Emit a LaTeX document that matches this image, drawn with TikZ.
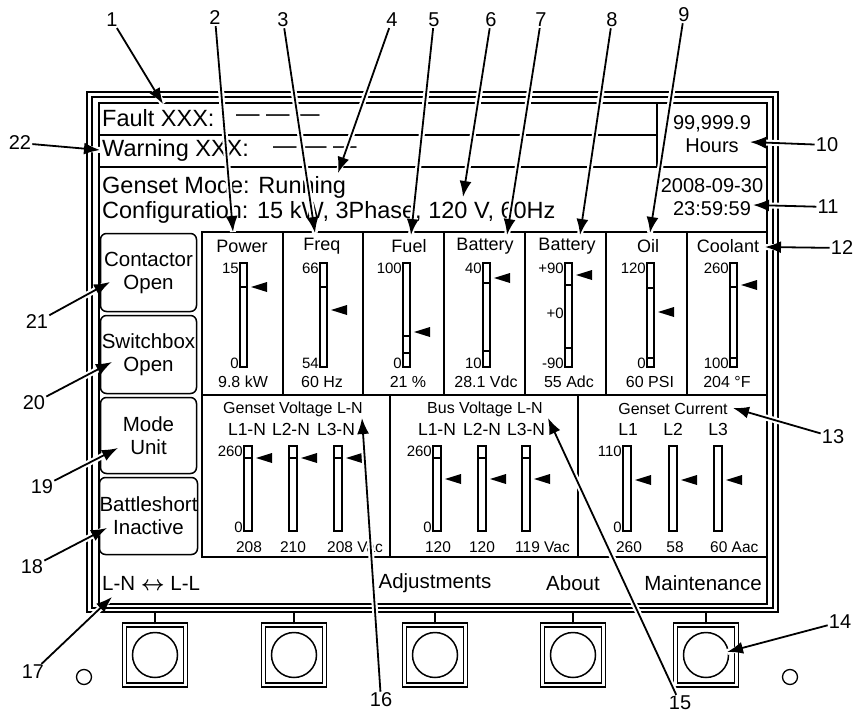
\documentclass[tikz,border=0pt]{standalone}
\usepackage{fontspec}
\setmainfont{Liberation Sans}
\usepackage{amsmath}
\usetikzlibrary{arrows.meta}
\usetikzlibrary{positioning}
\tikzset{>=latex}
\tikzstyle{callout} = [-{Latex[length=16pt, width=12pt]}, line width=1.8pt, preaction = {draw=white, line width=6pt, arrows=-}]
\tikzstyle{num} = [inner sep=1pt, font=\fontsize{20}{20}\selectfont]
\tikzstyle{status} = [anchor=west, inner sep=0pt, font=\fontsize{23.5}{23.5}\selectfont]
\tikzstyle{clock} = [inner sep=0pt, font=\fontsize{20}{20}\selectfont]
\tikzstyle{title} = [inner sep=0pt, font=\fontsize{18}{18}\selectfont]
\tikzstyle{scalemark} = [anchor=east, inner sep=1pt, font=\fontsize{15}{15}\selectfont]
\tikzstyle{reading} = [inner sep=0pt, font=\fontsize{16}{16}\selectfont]
\tikzstyle{paneltitle} = [inner sep=0pt, font=\fontsize{16}{16}\selectfont]
\tikzstyle{phase} = [inner sep=0pt, font=\fontsize{17.5}{17.5}\selectfont]
\tikzstyle{phasemark} = [anchor=east, inner sep=1pt, font=\fontsize{15}{15}\selectfont]
\tikzstyle{phasevalue} = [inner sep=0pt, font=\fontsize{15.5}{15.5}\selectfont]
\tikzstyle{menu} = [inner sep=0pt, font=\fontsize{20.5}{20.5}\selectfont]
\tikzstyle{softkey} = [draw, rounded corners=6pt, line width=1.5pt, minimum width=96pt, align=center, inner sep=0pt, font=\fontsize{20.5}{23}\selectfont]
\tikzstyle{hardkey} = [draw, line width=1.4pt, double, double distance=2.5pt, minimum width=61pt, minimum height=60pt]
\tikzstyle{knob} = [circle, draw, line width=1.5pt, minimum size=45pt]
\tikzstyle{screw} = [circle, draw, line width=1.3pt, minimum size=15pt]
\tikzstyle{rule} = [line width=1.8pt]
\tikzstyle{gauge} = [line width=1.3pt]

\begin{document}
\begin{tikzpicture}[x=1pt, y=-1pt]
\useasboundingbox (0,0) rectangle (854,717);
% housing and screen
\draw [line width=1.6pt] (87,92) rectangle (778,612);
\draw [line width=1.6pt] (92,97) rectangle (773,608);
\draw [line width=2pt] (99,103) rectangle (767,604);
\draw [rule] (99,135) -- (657,135);
\draw [rule] (657,103) -- (657,167);
\draw [rule] (99,167) -- (767,167);
\draw [rule] (202,232) rectangle (767,557);
\draw [rule] (202,395) -- (767,395);
\foreach \x in {283,363,444,525,606,687} \draw [rule] (\x,232) -- (\x,395);
\draw [rule] (390,395) -- (390,557);
\draw [rule] (578,395) -- (578,557);

% status lines
\node [status] (fault) at (102,118) {Fault XXX:};
\node [status] (faultdash) at (236,118) {— — —};
\node [status] (warning) at (102,150) {Warning XXX:};
\node [status] (warndash) at (273,150) {— — —};
\node [status] (mode) at (102,187) {Genset Mode: Running};
\node [status] (config) at (102,212) {Configuration: 15 kW, 3Phase, 120 V, 60Hz};
\node [clock] (hrs) at (712,124) {99,999.9};
\node [clock] (hrsunit) at (712,146) {Hours};
\node [clock] (date) at (712,186) {2008-09-30};
\node [clock] (time) at (712,209) {23:59:59};

% meters
\node [title] (power) at (242,246) {Power};
\node [title] (freq) at (322,246) {Freq};
\node [title] (fuel) at (409,246) {Fuel};
\node [title] (battv) at (485,246) {Battery};
\node [title] (batta) at (567,246) {Battery};
\node [title] (oil) at (648,246) {Oil};
\node [title] (coolant) at (728,246) {Coolant};
\node [reading] (powerval) at (243,382) {9.8 kW};
\node [reading] (freqval) at (322,382) {60 Hz};
\node [reading] (fuelval) at (408,382) {21 \%};
\node [reading] (battvval) at (486,382) {28.1 Vdc};
\node [reading] (battaval) at (569,382) {55 Adc};
\node [reading] (oilval) at (650,382) {60 PSI};
\node [reading] (coolantval) at (727,382) {204 °F};
\node [scalemark] (powerhi) at (240,268) {15};
\node [scalemark] (powerlo) at (240,363) {0};
\node [scalemark] (freqhi) at (320,268) {66};
\node [scalemark] (freqlo) at (320,363) {54};
\node [scalemark] (fuelhi) at (403,268) {100};
\node [scalemark] (fuello) at (403,363) {0};
\node [scalemark] (battvhi) at (483,268) {40};
\node [scalemark] (battvlo) at (483,363) {10};
\node [scalemark] (battahi) at (565,268) {+90};
\node [scalemark] (battamid) at (565,313) {+0};
\node [scalemark] (battalo) at (565,363) {-90};
\node [scalemark] (oilhi) at (647,268) {120};
\node [scalemark] (oillo) at (647,363) {0};
\node [scalemark] (coolanthi) at (730,268) {260};
\node [scalemark] (coolantlo) at (730,363) {100};
\draw [gauge] (240,263) rectangle +(7,104);
\draw [gauge] (240,287) -- +(7,0);
\fill (251,287) -- +(16,-5) -- +(16,5) -- cycle;
\draw [gauge] (320,263) rectangle +(7,104);
\draw [gauge] (320,287) -- +(7,0);
\fill (331,310) -- +(16,-5) -- +(16,5) -- cycle;
\draw [gauge] (403,263) rectangle +(7,104);
\draw [gauge] (403,336) -- +(7,0);
\draw [gauge] (403,353) -- +(7,0);
\fill (414,332) -- +(16,-5) -- +(16,5) -- cycle;
\draw [gauge] (483,263) rectangle +(7,104);
\draw [gauge] (483,283) -- +(7,0);
\draw [gauge] (483,351) -- +(7,0);
\fill (494,278) -- +(16,-5) -- +(16,5) -- cycle;
\draw [gauge] (565,263) rectangle +(7,104);
\draw [gauge] (565,285) -- +(7,0);
\draw [gauge] (565,348) -- +(7,0);
\fill (576,275) -- +(16,-5) -- +(16,5) -- cycle;
\draw [gauge] (647,263) rectangle +(7,104);
\draw [gauge] (647,288) -- +(7,0);
\draw [gauge] (647,358) -- +(7,0);
\fill (658,312) -- +(16,-5) -- +(16,5) -- cycle;
\draw [gauge] (730,263) rectangle +(7,104);
\draw [gauge] (730,287) -- +(7,0);
\draw [gauge] (730,358) -- +(7,0);
\fill (741,285) -- +(16,-5) -- +(16,5) -- cycle;

% phase panels
\node [paneltitle] (gensetv) at (293,409) {Genset Voltage L-N};
\node [paneltitle] (busv) at (485,409) {Bus Voltage L-N};
\node [paneltitle] (genseti) at (673,409) {Genset Current};
\node [phase] (gv1) at (247,429) {L1-N};
\node [phase] (gv2) at (291,429) {L2-N};
\node [phase] (gv3) at (336,429) {L3-N};
\node [phase] (bv1) at (437,429) {L1-N};
\node [phase] (bv2) at (482,429) {L2-N};
\node [phase] (bv3) at (526,429) {L3-N};
\node [phase] (gi1) at (628,429) {L1};
\node [phase] (gi2) at (673,429) {L2};
\node [phase] (gi3) at (718,429) {L3};
\node [phasemark] (gvhi) at (244,451) {260};
\node [phasemark] (gvlo) at (244,527) {0};
\node [phasemark] (bvhi) at (433,451) {260};
\node [phasemark] (bvlo) at (433,527) {0};
\node [phasemark] (gihi) at (623,451) {110};
\node [phasemark] (gilo) at (623,527) {0};
\node [phasevalue] (gv1val) at (249,547) {208};
\node [phasevalue] (gv2val) at (293,547) {210};
\node [phasevalue, anchor=west] (gv3val) at (327,547) {208 Vac};
\node [phasevalue] (bv1val) at (438,547) {120};
\node [phasevalue] (bv2val) at (482,547) {120};
\node [phasevalue, anchor=west] (bv3val) at (515,547) {119 Vac};
\node [phasevalue] (gi1val) at (629,547) {260};
\node [phasevalue] (gi2val) at (675,547) {58};
\node [phasevalue, anchor=west] (gi3val) at (710,547) {60 Aac};
\draw [gauge] (244,446) rectangle +(8,85);
\draw [gauge] (244,458) -- +(8,0);
\fill (256,458) -- +(16,-5) -- +(16,5) -- cycle;
\draw [gauge] (289,446) rectangle +(8,85);
\draw [gauge] (289,458) -- +(8,0);
\fill (301,458) -- +(16,-5) -- +(16,5) -- cycle;
\draw [gauge] (334,446) rectangle +(8,85);
\draw [gauge] (334,458) -- +(8,0);
\fill (346,458) -- +(16,-5) -- +(16,5) -- cycle;
\draw [gauge] (433,446) rectangle +(8,85);
\draw [gauge] (433,458) -- +(8,0);
\fill (445,479) -- +(16,-5) -- +(16,5) -- cycle;
\draw [gauge] (478,446) rectangle +(8,85);
\draw [gauge] (478,458) -- +(8,0);
\fill (490,479) -- +(16,-5) -- +(16,5) -- cycle;
\draw [gauge] (522,446) rectangle +(8,85);
\draw [gauge] (522,458) -- +(8,0);
\fill (534,479) -- +(16,-5) -- +(16,5) -- cycle;
\draw [gauge] (623,446) rectangle +(8,85);
\fill (635,480) -- +(16,-5) -- +(16,5) -- cycle;
\draw [gauge] (669,446) rectangle +(8,85);
\fill (681,480) -- +(16,-5) -- +(16,5) -- cycle;
\draw [gauge] (714,446) rectangle +(8,85);
\fill (726,480) -- +(16,-5) -- +(16,5) -- cycle;

% soft keys and menu
\node [softkey, minimum height=78pt] (contactor) at (148.5,272.5) {Contactor\\Open};
\node [softkey, minimum height=78pt] (switchbox) at (148.5,354.5) {Switchbox\\Open};
\node [softkey, minimum height=76pt] (modeunit) at (148.5,435.5) {Mode\\Unit};
\node [softkey, minimum height=77pt] (battleshort) at (148.5,516) {Battleshort\\Inactive};
\node [menu, anchor=west] (lnll) at (102,583) {L-N $\boldsymbol{\leftrightarrow}$ L-L};
\node [menu] (adjust) at (435,583) {Adjustments};
\node [menu] (about) at (573,583) {About};
\node [menu] (maint) at (703,583) {Maintenance};

% push buttons
\node [hardkey] (k1) at (155,655) {};
\node [hardkey] (k2) at (294,655) {};
\node [hardkey] (k3) at (435,655) {};
\node [hardkey] (k4) at (573,655) {};
\node [hardkey] (k5) at (706,655) {};
\node [knob] (b1) at (k1) {};
\node [knob] (b2) at (k2) {};
\node [knob] (b3) at (k3) {};
\node [knob] (b4) at (k4) {};
\node [knob] (b5) at (k5) {};
\coordinate (f1) at (155,612);
\coordinate (f2) at (294,612);
\coordinate (f3) at (435,612);
\coordinate (f4) at (573,612);
\coordinate (f5) at (706,612);
\draw [gauge] (k1) to (f1);
\draw [gauge] (k2) to (f2);
\draw [gauge] (k3) to (f3);
\draw [gauge] (k4) to (f4);
\draw [gauge] (k5) to (f5);
\node [screw] (s1) at (84,677) {};
\node [screw] (s2) at (790,677) {};

% callouts
\node [num] (c1) at (112,20) {1};
\node [num] (c2) at (215,18) {2};
\node [num] (c3) at (283,20) {3};
\node [num] (c4) at (392,20) {4};
\node [num] (c5) at (434,20) {5};
\node [num] (c6) at (491,20) {6};
\node [num] (c7) at (541,20) {7};
\node [num] (c8) at (612,20) {8};
\node [num] (c9) at (684,15) {9};
\node [num] (c10) at (827,145) {10};
\node [num] (c11) at (828,207) {11};
\node [num] (c12) at (842,248) {12};
\node [num] (c13) at (833,437) {13};
\node [num] (c14) at (840,622) {14};
\node [num] (c15) at (680,703) {15};
\node [num] (c16) at (381,700) {16};
\node [num] (c17) at (33,672) {17};
\node [num] (c18) at (32,567) {18};
\node [num] (c19) at (42,487) {19};
\node [num] (c20) at (34,403) {20};
\node [num] (c21) at (37,322) {21};
\node [num] (c22) at (20,143) {22};
\coordinate (p1) at (163,104);
\coordinate (p2) at (233,232);
\coordinate (p3) at (315,233);
\coordinate (p4) at (338,173);
\coordinate (p5) at (411,235);
\coordinate (p6) at (463,197);
\coordinate (p7) at (507,235);
\coordinate (p8) at (580,235);
\coordinate (p9) at (650,233);
\coordinate (p10) at (750,142);
\coordinate (p11) at (753,205);
\coordinate (p12) at (765,247);
\coordinate (p13) at (733,408);
\coordinate (p14) at (727,652);
\coordinate (p15) at (548,418);
\coordinate (p16) at (362,418);
\coordinate (p17) at (112,597);
\coordinate (p18) at (107,528);
\coordinate (p19) at (118,448);
\coordinate (p20) at (112,362);
\coordinate (p21) at (110,282);
\coordinate (p22) at (100,150);
\draw [callout] (c1) to (p1);
\draw [callout] (c2) to (p2);
\draw [callout] (c3) to (p3);
\draw [callout] (c4) to (p4);
\draw [callout] (c5) to (p5);
\draw [callout] (c6) to (p6);
\draw [callout] (c7) to (p7);
\draw [callout] (c8) to (p8);
\draw [callout] (c9) to (p9);
\draw [callout] (c10) to (p10);
\draw [callout] (c11) to (p11);
\draw [callout] (c12) to (p12);
\draw [callout] (c13) to (p13);
\draw [callout] (c14) to (p14);
\draw [callout] (c15) to (p15);
\draw [callout] (c16) to (p16);
\draw [callout] (c17) to (p17);
\draw [callout] (c18) to (p18);
\draw [callout] (c19) to (p19);
\draw [callout] (c20) to (p20);
\draw [callout] (c21) to (p21);
\draw [callout] (c22) to (p22);
\end{tikzpicture}
\end{document}
